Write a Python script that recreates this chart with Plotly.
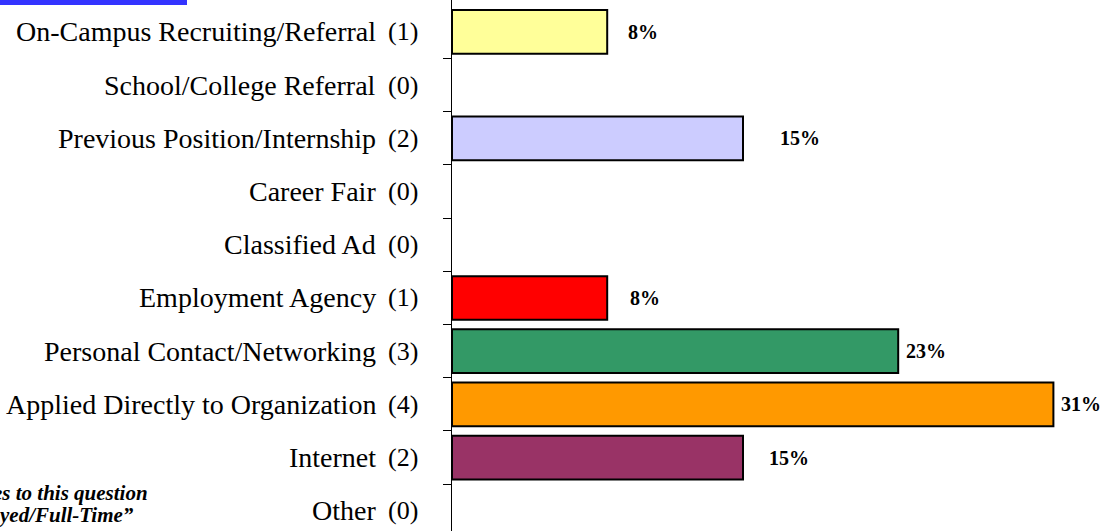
import plotly.graph_objects as go

categories = ["On-Campus Recruiting/Referral", "School/College Referral", "Previous Position/Internship",
              "Career Fair", "Classified Ad", "Employment Agency", "Personal Contact/Networking",
              "Applied Directly to Organization", "Internet", "Other"]
counts = [1, 0, 2, 0, 0, 1, 3, 4, 2, 0]
percents = [8, 0, 15, 0, 0, 8, 23, 31, 15, 0]
colors = ["#FFFF99", "#FFFFFF", "#CCCCFF", "#FFFFFF", "#FFFFFF", "#FF0000", "#339966", "#FF9900", "#993366", "#FFFFFF"]
label_shift = [19, 0, 35, 0, 0, 21, 6, 6, 24, 0]
note_lines = ["es to this question", "yed/Full-Time\u201d"]

W, H = 1111, 531
ML, MR = 452, 10
PW = W - ML - MR
serif = "Liberation Serif"
idx = list(range(len(categories)))

fig = go.Figure()
for i, (p, c) in enumerate(zip(percents, colors)):
    if p > 0:
        fig.add_trace(go.Bar(x=[p], y=[i], orientation="h", marker=dict(color=c, line=dict(color="black", width=2)),
                             width=0.82, showlegend=False, hoverinfo="skip"))

ann = []
for i, (cat, n, p, s) in enumerate(zip(categories, counts, percents, label_shift)):
    ann.append(dict(x=0, xref="paper", y=i, yref="y", text=cat, showarrow=False, xanchor="right",
                    xshift=-74, font=dict(family=serif, size=28, color="black")))
    ann.append(dict(x=0, xref="paper", y=i, yref="y", text=f"({n})", showarrow=False, xanchor="center",
                    xshift=-49, font=dict(family=serif, size=26, color="black")))
    if p > 0:
        ann.append(dict(x=p, xref="x", y=i, yref="y", text=f"<b>{p}%</b>", showarrow=False, xanchor="left",
                        xshift=s, font=dict(family=serif, size=20, color="black")))
for k, (line, xr, yy) in enumerate(zip(note_lines, [150, 136], [8.67, 9.08])):
    ann.append(dict(x=0, xref="paper", y=yy, yref="y", text=f"<b><i>{line}</i></b>", showarrow=False,
                    xanchor="right", xshift=xr - ML, font=dict(family=serif, size=21, color="black")))

fig.update_layout(
    width=W, height=H, margin=dict(l=ML, r=MR, t=0, b=0),
    plot_bgcolor="white", paper_bgcolor="white",
    xaxis=dict(range=[0, PW / 19.4], visible=False),
    yaxis=dict(range=[9.38, -0.60], showline=True, linecolor="black", linewidth=1,
               tickmode="array", tickvals=[i + 0.5 for i in idx[:-1]], ticks="outside", ticklen=8,
               tickcolor="black", showticklabels=False, showgrid=False, zeroline=False),
    annotations=ann,
    shapes=[dict(type="rect", xref="paper", yref="paper", x0=-ML / PW, x1=(187 - ML) / PW,
                 y0=1 - 5 / H, y1=1.0, fillcolor="#3333FF", line=dict(width=0))],
)
fig.write_html("out.html", config={"displayModeBar": False},
               post_script="document.body.style.margin='0';document.body.style.overflow='hidden';")
